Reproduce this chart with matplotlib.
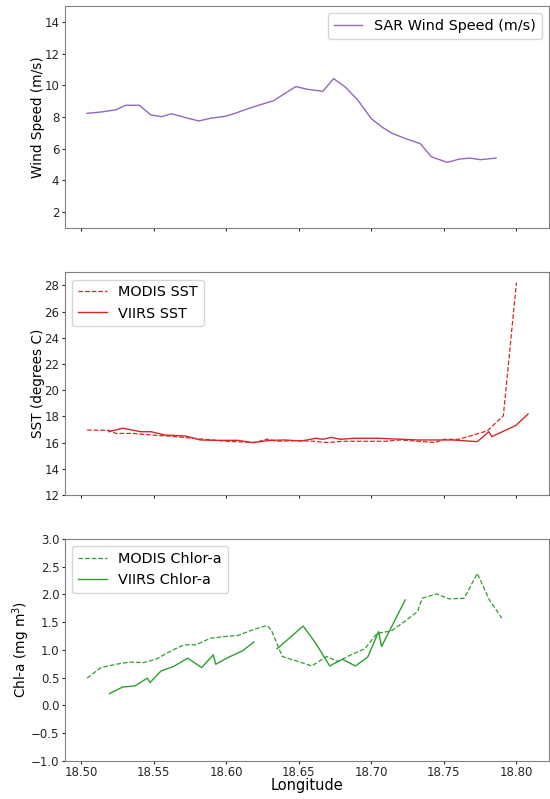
import numpy as np
import matplotlib
matplotlib.use("Agg")
import matplotlib.pyplot as plt

# Wind
wind_lon = [18.5039, 18.514, 18.524, 18.5305, 18.540, 18.548, 18.5556, 18.562, 18.572, 18.581,
            18.589, 18.599, 18.606, 18.6144, 18.623, 18.6326, 18.641, 18.648, 18.6556, 18.6665,
            18.674, 18.682, 18.6906, 18.700, 18.7076, 18.7148, 18.7245, 18.7337, 18.7414, 18.7523,
            18.7608, 18.768, 18.7753, 18.786]
wind_speed = [8.23, 8.32, 8.46, 8.74, 8.74, 8.13, 8.02, 8.21, 7.96, 7.75,
              7.92, 8.04, 8.23, 8.51, 8.76, 9.03, 9.52, 9.92, 9.75, 9.62,
              10.42, 9.89, 9.07, 7.89, 7.35, 6.95, 6.61, 6.32, 5.49, 5.14,
              5.35, 5.41, 5.31, 5.41]

# SST
modis_sst_lon = [18.504, 18.519, 18.524, 18.536, 18.548, 18.56, 18.58, 18.60, 18.62, 18.628,
                 18.635, 18.65, 18.66, 18.67, 18.68, 18.70, 18.71, 18.72, 18.744, 18.75,
                 18.76, 18.768, 18.78, 18.791, 18.80]
modis_sst = [16.96, 16.93, 16.70, 16.70, 16.58, 16.5, 16.3, 16.1, 16.0, 16.27,
             16.1, 16.15, 16.1, 16.0, 16.1, 16.1, 16.1, 16.2, 16.0, 16.25,
             16.25, 16.5, 16.9, 18.05, 28.2]
viirs_sst_lon = [18.519, 18.5285, 18.541, 18.548, 18.5576, 18.572, 18.582, 18.594, 18.608, 18.618,
                 18.63, 18.64, 18.652, 18.6616, 18.6665, 18.6725, 18.6785, 18.688, 18.705, 18.717,
                 18.732, 18.756, 18.773, 18.781, 18.783, 18.7995, 18.808]
viirs_sst = [16.83, 17.1, 16.83, 16.83, 16.58, 16.5, 16.2, 16.17, 16.17, 16.0,
             16.17, 16.2, 16.12, 16.33, 16.25, 16.4, 16.25, 16.33, 16.33, 16.27,
             16.2, 16.2, 16.07, 16.83, 16.45, 17.3, 18.18]

# Chlorophyll-a
modis_chl_lon = [18.504, 18.5135, 18.524, 18.533, 18.543, 18.5515, 18.5624, 18.571, 18.579, 18.589,
                 18.599, 18.608, 18.618, 18.628, 18.631, 18.6386, 18.6495, 18.659, 18.669, 18.677,
                 18.6858, 18.6955, 18.704, 18.7136, 18.7233, 18.7318, 18.735, 18.745, 18.7535, 18.764,
                 18.773, 18.7814, 18.790]
modis_chl = [0.49, 0.68, 0.74, 0.78, 0.77, 0.83, 0.99, 1.09, 1.09, 1.21,
             1.24, 1.26, 1.36, 1.44, 1.36, 0.88, 0.79, 0.71, 0.88, 0.79,
             0.91, 1.02, 1.30, 1.34, 1.52, 1.69, 1.93, 2.01, 1.92, 1.93,
             2.38, 1.90, 1.57]
viirs_chl_lon = [18.5194, 18.5285, 18.537, 18.5455, 18.5474, 18.555, 18.5636, 18.5733, 18.583, 18.591,
                 18.5927, 18.601, 18.611, 18.619, 18.627, 18.635, 18.653, 18.6616, 18.6713, 18.680,
                 18.689, 18.6975, 18.705, 18.707, 18.7233]
viirs_chl = [0.21, 0.33, 0.35, 0.49, 0.41, 0.62, 0.70, 0.85, 0.68, 0.91,
             0.74, 0.86, 0.98, 1.14, np.nan, 1.02, 1.43, 1.12, 0.71, 0.83,
             0.71, 0.87, 1.33, 1.06, 1.90]

plt.rcParams['font.family'] = ['DejaVu Sans']
fig = plt.figure(figsize=(5.5, 7.99), dpi=100)
L, R = 0.118, 0.998
ax1 = fig.add_axes([L, 0.7146, R - L, 0.9925 - 0.7146])
ax2 = fig.add_axes([L, 0.3805, R - L, 0.6592 - 0.3805])
ax3 = fig.add_axes([L, 0.0479, R - L, 0.3254 - 0.0479])

LFS = 10.4
YFS = 9.8
YPAD = -0.5
ax1.plot(wind_lon, wind_speed, color='#9467bd', lw=1.0, label='SAR Wind Speed (m/s)')
ax1.set_ylim(1, 15)
ax1.set_yticks(np.arange(2, 15, 2))
ax1.set_ylabel('Wind Speed (m/s)', fontsize=YFS, labelpad=YPAD)
ax1.legend(loc='upper right', fontsize=LFS, handlelength=2.0)

ax2.plot(modis_sst_lon, modis_sst, color='#d62728', lw=0.9, ls='--', label='MODIS SST')
ax2.plot(viirs_sst_lon, viirs_sst, color='#d62728', lw=1.0, label='VIIRS SST')
ax2.set_ylim(12, 29)
ax2.set_yticks(np.arange(12, 29, 2))
ax2.set_ylabel('SST (degrees C)', fontsize=YFS, labelpad=YPAD)
ax2.legend(loc='upper left', fontsize=LFS, handlelength=2.0)

ax3.plot(modis_chl_lon, modis_chl, color='#2ca02c', lw=0.9, ls='--', label='MODIS Chlor-a')
ax3.plot(viirs_chl_lon, viirs_chl, color='#2ca02c', lw=1.0, label='VIIRS Chlor-a')
ax3.set_ylim(-1, 3)
ax3.set_yticks(np.arange(-1.0, 3.01, 0.5))
ax3.set_ylabel('Chl-a (mg m$^3$)', fontsize=YFS, labelpad=YPAD)
ax3.set_xlabel('Longitude', fontsize=10.5, labelpad=-1)
ax3.legend(loc='upper left', fontsize=LFS, handlelength=2.0)

xt = [18.50, 18.55, 18.60, 18.65, 18.70, 18.75, 18.80]
for ax in (ax1, ax2, ax3):
    ax.set_xlim(18.4887, 18.8224)
    ax.set_xticks(xt)
    ax.tick_params(labelsize=8.5, colors='0.15', length=2.5, pad=1.5)
    for s in ax.spines.values():
        s.set_color('0.5')
for ax in (ax1, ax2):
    ax.set_xticklabels([])
ax3.set_xticklabels(['%.2f' % v for v in xt])

fig.savefig('out.png', dpi=100)
